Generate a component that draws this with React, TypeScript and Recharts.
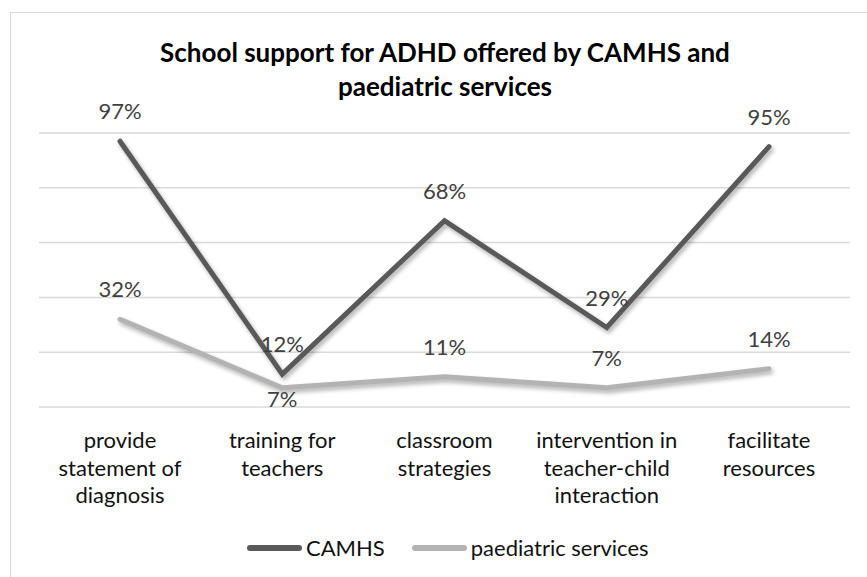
import { LineChart, Line, XAxis, YAxis, CartesianGrid, LabelList } from 'recharts';

const categories = [
  'provide statement of diagnosis',
  'training for teachers',
  'classroom strategies',
  'intervention in teacher-child interaction',
  'facilitate resources',
];
const camhs = [97, 12, 68, 29, 95];
const paediatric = [32, 7, 11, 7, 14];
const yTicks = [0, 20, 40, 60, 80, 100];
// paediatric labels that Excel pushed under the line
const paedLabelBelow = ['training for teachers'];

const data = categories.map((c, i) => ({ name: c, camhs: camhs[i], paediatric: paediatric[i] }));

const FONT = 'Lato, "Open Sans", sans-serif';

const series = [
  { key: 'camhs', label: 'CAMHS', color: '#595959' },
  { key: 'paediatric', label: 'paediatric services', color: '#b3b3b3' },
];

function wrap(label: string, maxChars = 15) {
  const lines: string[] = [];
  let cur = '';
  label.split(' ').forEach((w) => {
    const next = cur ? cur + ' ' + w : w;
    if (next.length > maxChars && cur) {
      lines.push(cur);
      cur = w;
    } else {
      cur = next;
    }
  });
  if (cur) lines.push(cur);
  return lines;
}

function CategoryTick(props: any) {
  const { x, y, payload } = props;
  const lines = wrap(payload.value);
  return (
    <text x={x} y={y} textAnchor="middle" fill="#111" fontSize={22} fontFamily={FONT}>
      {lines.map((l, i) => (
        <tspan key={i} x={x} y={y + 33 + i * 27.5}>{l}</tspan>
      ))}
    </text>
  );
}

const labelAbove = (props: any) => {
  const { x, y, value } = props;
  return (
    <text x={x} y={y - 22} textAnchor="middle" fill="#404040" fontSize={22} fontFamily={FONT}>
      {value}%
    </text>
  );
};

const paedLabel = (props: any) => {
  const { x, y, value, index } = props;
  const below = paedLabelBelow.includes(categories[index]);
  return (
    <text x={x} y={below ? y + 19 : y - 22} textAnchor="middle" fill="#404040" fontSize={22} fontFamily={FONT}>
      {value}%
    </text>
  );
};

export default function App() {
  return (
    <div style={{ position: 'absolute', left: 0, top: 0, width: 867, height: 577, overflow: 'hidden', background: '#fff' }}>
      <div
        style={{
          position: 'absolute', left: 10, top: 12, width: 900, height: 600,
          borderLeft: '1px solid #d9d9d9', borderTop: '1px solid #d9d9d9',
        }}
      />
      <div
        style={{
          position: 'absolute', left: 0, top: 35, width: 890, textAlign: 'center',
          fontFamily: FONT, fontWeight: 700, fontSize: 26, lineHeight: '34px', color: '#000',
        }}
      >
        School support for ADHD offered by CAMHS and<br />paediatric services
      </div>
      <div style={{ position: 'absolute', left: 0, top: 0 }}>
        <LineChart width={867} height={577} data={data} margin={{ top: 133, right: 17, bottom: 140, left: 39 }}>
          <CartesianGrid vertical={false} stroke="#d9d9d9" strokeWidth={1.5} />
          <XAxis
            dataKey="name"
            height={30}
            axisLine={false}
            tickLine={false}
            tick={<CategoryTick />}
            interval={0}
            padding={{ left: 81, right: 81 }}
          />
          <YAxis hide domain={[0, 100]} ticks={yTicks} />
          <Line
            dataKey="camhs"
            name="CAMHS"
            stroke="#595959"
            strokeWidth={5}
            strokeLinecap="round"
            dot={false}
            isAnimationActive={false}
            style={{ filter: 'drop-shadow(2px 3px 2px rgba(0,0,0,0.3))' }}
          >
            <LabelList dataKey="camhs" content={labelAbove} />
          </Line>
          <Line
            dataKey="paediatric"
            name="paediatric services"
            stroke="#b3b3b3"
            strokeWidth={5}
            strokeLinecap="round"
            dot={false}
            isAnimationActive={false}
            style={{ filter: 'drop-shadow(2px 3px 2px rgba(0,0,0,0.3))' }}
          >
            <LabelList dataKey="paediatric" content={paedLabel} />
          </Line>
        </LineChart>
      </div>
      <div
        style={{
          position: 'absolute', left: 247, top: 534, display: 'flex', gap: 27,
          fontFamily: FONT, fontSize: 22, color: '#111',
        }}
      >
        {series.map((s) => (
          <div key={s.key} style={{ display: 'flex', alignItems: 'center' }}>
            <span style={{ display: 'inline-block', width: 55, height: 6, borderRadius: 3, background: s.color, marginRight: 4 }} />
            <span>{s.label}</span>
          </div>
        ))}
      </div>
    </div>
  );
}
